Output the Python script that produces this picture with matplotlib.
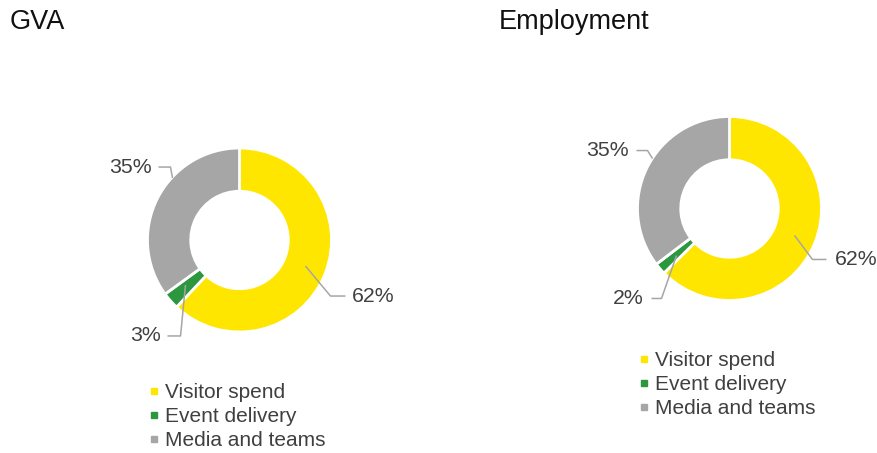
import matplotlib
matplotlib.use("Agg")
import matplotlib.pyplot as plt
from matplotlib.lines import Line2D

plt.rcParams['font.family'] = ['Liberation Sans', 'DejaVu Sans']

# ---- data ----
categories = ["Visitor spend", "Event delivery", "Media and teams"]
gva_values = [62, 3, 35]
emp_values = [62, 2, 35]
titles = ["GVA", "Employment"]

colors = ["#FFE600", "#2C973E", "#A6A6A6"]
text_col = "#404040"
line_col = "#A6A6A6"

W, H = 877, 453
fig = plt.figure(figsize=(W / 100, H / 100), dpi=100)


def donut_axes(cx, cy, R, half):
    L = half / R
    ax = fig.add_axes([(cx - half) / W, (H - cy - half) / H, 2 * half / W, 2 * half / H])
    return ax, L


# layout of labels (in radius units relative to donut center): start, elbow, end, text x, align
gva_layout = [
    ((0.717, -0.283), (0.989, -0.609), (1.152, -0.609), 1.226, 'left'),
    ((-0.587, -0.489), (-0.641, -1.043), (-0.783, -1.043), -0.859, 'right'),
    ((-0.728, 0.674), (-0.75, 0.793), (-0.88, 0.793), -0.957, 'right'),
]
emp_layout = [
    ((0.707, -0.293), (0.902, -0.554), (1.054, -0.554), 1.141, 'left'),
    ((-0.576, -0.511), (-0.739, -0.978), (-0.848, -0.978), -0.93, 'right'),
    ((-0.837, 0.543), (-0.891, 0.630), (-1.011, 0.630), -1.09, 'right'),
]


def draw(values, layout, cx, cy, R, legend_xy):
    ax, L = donut_axes(cx, cy, R, 150)
    ax.pie(values, colors=colors, startangle=90, counterclock=False, radius=1,
           wedgeprops=dict(width=0.47, edgecolor='white', linewidth=2))
    ax.set_xlim(-L, L)
    ax.set_ylim(-L, L)
    ax.axis('off')
    for v, (s, e, t, tx, ha) in zip(values, layout):
        ax.plot([s[0], e[0], t[0]], [s[1], e[1], t[1]], color=line_col, lw=1.1,
                solid_capstyle='butt', clip_on=False)
        ax.text(tx, t[1], f"{v}%", ha=ha, va='center', fontsize=15.3, color=text_col)
    handles = [Line2D([], [], marker='s', linestyle='none', markersize=5,
                      markerfacecolor=c, markeredgecolor=c) for c in colors]
    leg = fig.legend(handles, categories, loc='upper left',
                     bbox_to_anchor=(legend_xy[0] / W, 1 - legend_xy[1] / H),
                     frameon=False, fontsize=15, borderpad=0, borderaxespad=0,
                     handlelength=0.6, handletextpad=0.2, labelspacing=0.25)
    for txt in leg.get_texts():
        txt.set_color(text_col)


draw(gva_values, gva_layout, 239.5, 240, 92, (148, 383))
draw(emp_values, emp_layout, 729.5, 208.5, 92, (638, 351))

fig.text(10 / W, 1 - 22 / H, titles[0], fontsize=19.5, va='center', ha='left', color='#111111')
fig.text(499 / W, 1 - 22 / H, titles[1], fontsize=19.5, va='center', ha='left', color='#111111')

fig.savefig("out.png", dpi=100, facecolor='white')
